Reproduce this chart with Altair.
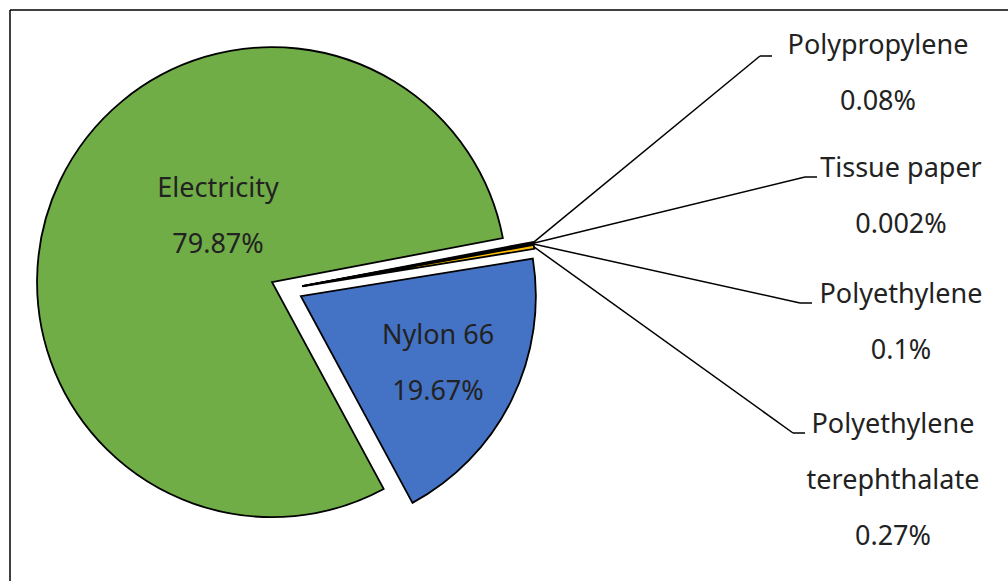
import math
import altair as alt
import pandas as pd

# Share of each input (percent), listed clockwise from the top small slices
names = ["Polypropylene", "Tissue paper", "Polyethylene",
         "Polyethylene terephthalate", "Nylon 66", "Electricity"]
shares = [0.08, 0.002, 0.1, 0.27, 19.67, 79.87]
fills = ["#ED7D31", "#A5A5A5", "#5B9BD5", "#FFC000", "#4472C4", "#70AD47"]

# Label text lines
label_lines = [
    ["Polypropylene"],
    ["Tissue paper"],
    ["Polyethylene"],
    ["Polyethylene", "terephthalate"],
    ["Nylon 66"],
    ["Electricity"],
]

# Layout constants (pixels)
W, H = 1008, 581
CX, CY = 286.5, 289.0     # pie centre
R = 235                   # pie radius
EXPLODE = 16.0            # distance every slice is pulled out
START = math.radians(79.2)

# First-line baseline anchor of each label
label_anchor = {
    "Polypropylene": (878, 54),
    "Tissue paper": (901, 177),
    "Polyethylene": (901, 303),
    "Polyethylene terephthalate": (893, 433),
    "Nylon 66": (438, 344),
    "Electricity": (218, 197),
}
# Leader line elbow (x, y) and the end of its short horizontal stub
leader_elbow = {
    "Polypropylene": (760, 56, 772),
    "Tissue paper": (805, 177, 817),
    "Polyethylene": (800, 303, 812),
    "Polyethylene terephthalate": (793, 433, 805),
}

rows = []
for i, (n, s, lines) in enumerate(zip(names, shares, label_lines)):
    lx, ly = label_anchor[n]
    ex, ey, sx = leader_elbow.get(n, (None, None, None))
    rows.append({
        "order": i, "name": n, "share": s,
        "text": lines + [f"{s:g}%"],
        "lx": lx, "ly": ly, "ex": ex, "ey": ey, "sx": sx,
    })
df = pd.DataFrame(rows)

base = (
    alt.Chart(df)
    .transform_joinaggregate(total="sum(share)")
    .transform_window(cum="sum(share)", sort=[alt.SortField("order")], frame=[None, 0])
    .transform_calculate(
        t1=f"{START} + 2 * PI * datum.cum / datum.total",
        t0=f"{START} + 2 * PI * (datum.cum - datum.share) / datum.total",
    )
    .transform_calculate(mid="(datum.t0 + datum.t1) / 2")
    .transform_calculate(
        cx=f"{CX} + {EXPLODE} * sin(datum.mid)",
        cy=f"{CY} - {EXPLODE} * cos(datum.mid)",
    )
    .transform_calculate(
        tipx=f"datum.cx + {R} * sin(datum.mid)",
        tipy=f"datum.cy - {R} * cos(datum.mid)",
    )
)

arcs = base.mark_arc(radius=R, stroke="black", strokeWidth=1.8, strokeJoin="miter").encode(
    theta=alt.Theta("t0:Q", scale=None, stack=None),
    theta2="t1:Q",
    x=alt.X("cx:Q", scale=None),
    y=alt.Y("cy:Q", scale=None),
    color=alt.Color("name:N", scale=alt.Scale(domain=names, range=fills), legend=None),
    order=alt.Order("order:Q"),
)

leaders = base.transform_filter("datum.ex != null").mark_rule(
    color="black", strokeWidth=1.5
).encode(
    x=alt.X("tipx:Q", scale=None),
    y=alt.Y("tipy:Q", scale=None),
    x2="ex:Q",
    y2="ey:Q",
)

stubs = base.transform_filter("datum.ex != null").mark_rule(
    color="black", strokeWidth=1.5
).encode(
    x=alt.X("ex:Q", scale=None),
    y=alt.Y("ey:Q", scale=None),
    x2="sx:Q",
)

labels = base.mark_text(
    font="Noto Sans", fontSize=27, color="#222222", align="center",
    baseline="alphabetic", lineHeight=56,
).encode(
    x=alt.X("lx:Q", scale=None),
    y=alt.Y("ly:Q", scale=None),
    text="text",
)

frame_src = alt.Chart(pd.DataFrame({"k": [0]}))
frame_left = frame_src.mark_rule(color="black", strokeWidth=1.5).encode(
    x=alt.value(10), y=alt.value(10), y2=alt.value(H)
)
frame_top = frame_src.mark_rule(color="black", strokeWidth=1.5).encode(
    x=alt.value(10), x2=alt.value(W), y=alt.value(10)
)

chart = (
    alt.layer(frame_left, frame_top, arcs, leaders, stubs, labels)
    .properties(width=W, height=H, padding=0, autosize=alt.AutoSizeParams(type="none"),
                background="white")
    .configure_view(stroke=None)
)

chart.save("out.html", embed_options={"renderer": "svg", "actions": False})
